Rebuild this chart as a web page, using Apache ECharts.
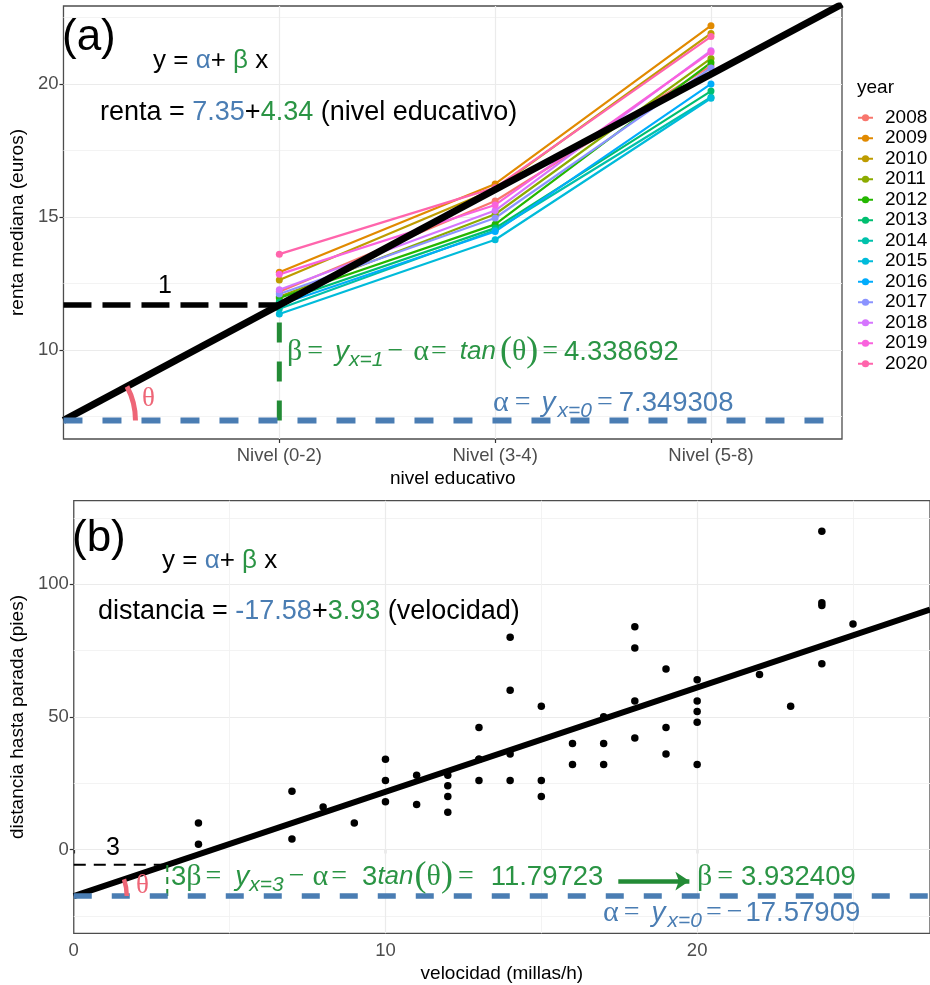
<!DOCTYPE html>
<html>
<head>
<meta charset="utf-8">
<script src="https://cdn.jsdelivr.net/npm/echarts@6/dist/echarts.min.js"></script>
<style>
html, body { margin: 0; padding: 0; background: #fff; }
#chart { width: 930px; height: 985px; }
</style>
</head>
<body>
<div id="chart"></div>
<script>
// ---- panel (a): renta mediana por nivel educativo y año ----
const years = ['2008', '2009', '2010', '2011', '2012', '2013', '2014', '2015', '2016', '2017', '2018', '2019', '2020'];
const yearColors = ['#F8766D', '#E18A00', '#BE9C00', '#8CAB00', '#24B700', '#00BE70', '#00C1AB',
                    '#00BBDA', '#00ACFC', '#8B93FF', '#D575FE', '#F962DD', '#FF65AC'];
const nivelLabels = ['Nivel (0-2)', 'Nivel (3-4)', 'Nivel (5-8)'];
const nivelPos = [1, 2, 3];
// one value per year, same order as `years`
const rentaN02 = [12.19, 12.92, 12.63, 12.00, 11.95, 11.80, 11.55, 11.35, 11.70, 12.10, 12.26, 12.84, 13.60];
const rentaN34 = [15.60, 16.24, 16.05, 15.10, 14.72, 14.58, 14.50, 14.14, 14.45, 14.96, 15.24, 15.45, 16.10];
const rentaN58 = [20.68, 22.19, 21.90, 20.96, 20.80, 19.73, 19.50, 19.46, 20.00, 20.60, 21.25, 21.20, 21.78];
const alphaA = 7.349308;
const betaA = 4.338692;

// ---- panel (b): velocidad vs distancia de frenado ----
const velocidad = [4, 4, 7, 7, 8, 9, 10, 10, 10, 11, 11, 12, 12, 12, 12, 13, 13, 13, 13, 14, 14, 14, 14,
                   15, 15, 15, 16, 16, 17, 17, 17, 18, 18, 18, 18, 19, 19, 19, 20, 20, 20, 20, 20, 22, 23,
                   24, 24, 24, 24, 25];
const distancia = [2, 10, 4, 22, 16, 10, 18, 26, 34, 17, 28, 14, 20, 24, 28, 26, 34, 34, 46, 26, 36, 60, 80,
                   20, 26, 54, 32, 40, 32, 40, 50, 42, 56, 76, 84, 36, 46, 68, 32, 48, 52, 56, 64, 66, 54,
                   70, 92, 93, 120, 85];
const alphaB = -17.57909;
const betaB = 3.932409;

// axis extents, ticks and grid lines
const xRangeA = [0, 3.607];
const yRangeA = [6.65, 22.93];
const ticksYA = [10, 15, 20];
const majorYA = [10, 15, 20];
const minorYA = [7.5, 12.5, 17.5, 22.5];
const xRangeB = [0, 27.47];
const yRangeB = [-31.6, 131.5];
const ticksXB = [0, 10, 20];
const majorXB = [10, 20];
const minorXB = [5, 15, 25];
const ticksYB = [0, 50, 100];
const majorYB = [0, 50, 100];
const minorYB = [-25, 25, 75, 125];
const arrowB = [[17.47, -11.9], [19.75, -11.9]];

const BLUE = '#4A7DB3';
const GREEN = '#238B36';
const GREEN_T = '#2A9444';
const PINK = '#EE6677';
const SANS = 'Liberation Sans';
const SERIF = 'Liberation Serif';

const chart = echarts.init(document.getElementById('chart'));

function gridLines(major, minor, dim) {
  return major.map(v => ({ [dim]: v, lineStyle: { color: '#EBEBEB', width: 1.2, type: 'solid' } }))
    .concat(minor.map(v => ({ [dim]: v, lineStyle: { color: '#F2F2F2', width: 0.9, type: 'solid' } })));
}

function segment(idx, pts, color, width, type, z) {
  return {
    type: 'line', xAxisIndex: idx, yAxisIndex: idx, data: pts,
    symbol: 'none', silent: true, z: z,
    lineStyle: { color: color, width: width, type: type, cap: 'butt' }
  };
}

const series = [];
// background grid lines
series.push({
  type: 'line', xAxisIndex: 0, yAxisIndex: 0, data: [], z: 1,
  markLine: { silent: true, symbol: 'none', animation: false, label: { show: false },
    data: gridLines(majorYA, minorYA, 'yAxis').concat(gridLines(nivelPos, [], 'xAxis')) }
});
series.push({
  type: 'line', xAxisIndex: 1, yAxisIndex: 1, data: [], z: 1,
  markLine: { silent: true, symbol: 'none', animation: false, label: { show: false },
    data: gridLines(majorYB, minorYB, 'yAxis').concat(gridLines(majorXB, minorXB, 'xAxis')) }
});

// one line per year
years.forEach((y, i) => {
  series.push({
    name: y, type: 'line', xAxisIndex: 0, yAxisIndex: 0,
    data: [[nivelPos[0], rentaN02[i]], [nivelPos[1], rentaN34[i]], [nivelPos[2], rentaN58[i]]],
    color: yearColors[i], symbol: 'circle', symbolSize: 7, z: 10,
    lineStyle: { width: 2.2 }
  });
});

// regression & annotation segments, panel (a)
series.push(segment(0, [[xRangeA[0], alphaA], [xRangeA[1], alphaA + betaA * xRangeA[1]]], '#000', 7, 'solid', 12));
series.push(segment(0, [[0, alphaA + betaA], [1, alphaA + betaA]], '#000', 5.5, [28, 11], 13));
series.push(segment(0, [[1, alphaA], [1, alphaA + betaA]], GREEN, 5, [20, 19], 13));
series.push(segment(0, [[xRangeA[0], alphaA], [xRangeA[1], alphaA]], BLUE, 6, [19, 20], 13));

// scatter, panel (b)
series.push({
  type: 'scatter', xAxisIndex: 1, yAxisIndex: 1, z: 10,
  data: velocidad.map((v, i) => [v, distancia[i]]),
  symbolSize: 7.5, itemStyle: { color: '#000', opacity: 1 }
});
series.push(segment(1, [[xRangeB[0], alphaB], [xRangeB[1], alphaB + betaB * xRangeB[1]]], '#000', 6, 'solid', 12));
series.push(segment(1, [[0, alphaB + 3 * betaB], [3, alphaB + 3 * betaB]], '#000', 2, [12, 8], 13));
series.push(segment(1, [[3, alphaB], [3, alphaB + 3 * betaB]], GREEN, 2, [7, 5], 13));
series.push(segment(1, [[xRangeB[0], alphaB], [xRangeB[1], alphaB]], BLUE, 5.5, [18, 20], 13));
series.push({
  type: 'line', xAxisIndex: 1, yAxisIndex: 1, data: [], z: 14,
  markLine: { silent: true, animation: false, symbol: ['none', 'arrow'], symbolSize: 14,
    label: { show: false }, lineStyle: { color: GREEN, width: 4.5, type: 'solid' },
    data: [[{ coord: arrowB[0] }, { coord: arrowB[1] }]] }
});

const tickLabel = { color: '#4D4D4D', fontSize: 18.5, fontFamily: SANS };
const axisTitle = { color: '#000', fontSize: 19, fontFamily: SANS };
const tick = { lineStyle: { color: '#333', width: 1.2 }, length: 4 };

const option = {
  animation: false,
  textStyle: { fontFamily: SANS },
  grid: [
    { left: 57.5, top: 6, width: 784.5, height: 433, show: true, borderColor: '#4d4d4d', borderWidth: 1.3, containLabel: false },
    { left: 67.7, top: 500.7, width: 864, height: 432.6, show: true, borderColor: '#4d4d4d', borderWidth: 1.3, containLabel: false }
  ],
  xAxis: [
    { type: 'value', gridIndex: 0, min: xRangeA[0], max: xRangeA[1],
      axisLine: { show: false }, splitLine: { show: false },
      axisTick: Object.assign({ customValues: nivelPos }, tick),
      axisLabel: Object.assign({ customValues: nivelPos, margin: 7,
        formatter: v => nivelLabels[nivelPos.indexOf(v)] }, tickLabel),
      name: 'nivel educativo', nameLocation: 'middle', nameGap: 30, nameTextStyle: axisTitle },
    { type: 'value', gridIndex: 1, min: xRangeB[0], max: xRangeB[1],
      axisLine: { show: false }, splitLine: { show: false },
      axisTick: Object.assign({ customValues: ticksXB }, tick),
      axisLabel: Object.assign({ customValues: ticksXB, margin: 8 }, tickLabel),
      name: 'velocidad (millas/h)', nameLocation: 'middle', nameGap: 31, nameTextStyle: axisTitle }
  ],
  yAxis: [
    { type: 'value', gridIndex: 0, min: yRangeA[0], max: yRangeA[1],
      axisLine: { show: false }, splitLine: { show: false },
      axisTick: Object.assign({ customValues: ticksYA }, tick),
      axisLabel: Object.assign({ customValues: ticksYA, margin: 5 }, tickLabel),
      name: 'renta mediana (euros)', nameLocation: 'middle', nameGap: 28, nameTextStyle: axisTitle },
    { type: 'value', gridIndex: 1, min: yRangeB[0], max: yRangeB[1],
      axisLine: { show: false }, splitLine: { show: false },
      axisTick: Object.assign({ customValues: ticksYB }, tick),
      axisLabel: Object.assign({ customValues: ticksYB, margin: 5 }, tickLabel),
      name: 'distancia hasta parada (pies)', nameLocation: 'middle', nameGap: 38, nameTextStyle: axisTitle }
  ],
  legend: {
    data: years, orient: 'vertical', left: 852, top: 102.5,
    itemWidth: 15, itemHeight: 9, itemGap: 0,
    textStyle: { fontSize: 19, lineHeight: 20.5, color: '#000', fontFamily: SANS, padding: [0, 0, 0, 7] }
  },
  series: series
};
chart.setOption(option);

// ---- annotations ----
const simpleRich = {
  k: { fill: '#000', fontFamily: SANS, fontSize: 27 },
  a: { fill: BLUE, fontFamily: SANS, fontSize: 27 },
  b: { fill: GREEN_T, fontFamily: SANS, fontSize: 27 }
};
function txt(x, y, text, size) {
  const rich = {};
  Object.keys(simpleRich).forEach(k => { rich[k] = Object.assign({}, simpleRich[k], { fontSize: size || 27 }); });
  return { type: 'text', x: x, y: y, z: 100, silent: true,
    style: { text: text, rich: rich, align: 'left', verticalAlign: 'middle', fill: '#000' } };
}
function plain(x, y, text, size, col, family) {
  return { type: 'text', x: x, y: y, z: 100, silent: true,
    style: { text: text, fill: col, fontSize: size, fontFamily: family || SANS, align: 'left', verticalAlign: 'middle' } };
}
// plotmath-like formula pieces: [style, text, left padding]
const BASE = {
  g: { fontFamily: SERIF, fontSize: 30 },
  e: { fontFamily: SERIF, fontSize: 28 },
  iy: { fontFamily: SANS, fontStyle: 'italic', fontSize: 28 },
  it: { fontFamily: SANS, fontStyle: 'italic', fontSize: 26 },
  sub: { fontFamily: SANS, fontStyle: 'italic', fontSize: 21, top: 16 },
  par: { fontFamily: SERIF, fontSize: 36 },
  n: { fontFamily: SANS, fontSize: 27.5 }
};
function formula(x, y, col, pieces) {
  const rich = {};
  let text = '';
  pieces.forEach((p, i) => {
    const b = BASE[p[0]];
    rich['p' + i] = { fill: col, fontFamily: b.fontFamily, fontSize: b.fontSize,
      fontStyle: b.fontStyle || 'normal', padding: [b.top || 0, 0, 0, p[2] || 0] };
    text += '{p' + i + '|' + p[1] + '}';
  });
  return { type: 'text', x: x, y: y, z: 100, silent: true,
    style: { text: text, rich: rich, align: 'left', verticalAlign: 'middle', fill: col } };
}

const cA = chart.convertToPixel({ gridIndex: 0 }, [0, alphaA]);
const pA = chart.convertToPixel({ gridIndex: 0 }, [1, alphaA + betaA]);
const angA = Math.atan2(cA[1] - pA[1], pA[0] - cA[0]);
const cB = chart.convertToPixel({ gridIndex: 1 }, [0, alphaB]);
const pB = chart.convertToPixel({ gridIndex: 1 }, [3, alphaB + 3 * betaB]);
const angB = Math.atan2(cB[1] - pB[1], pB[0] - cB[0]);

const graphic = [
  plain(62, 38, '(a)', 44, '#000'),
  txt(153, 61, '{k|y = }{a|α}{k|+}{b| β}{k| x}', 26),
  txt(100, 113, '{k|renta = }{a|7.35}{k|+}{b|4.34}{k| (nivel educativo)}'),
  plain(158, 286, '1', 25, '#000'),
  plain(142, 399, 'θ', 27, PINK, SERIF),
  formula(287, 352, GREEN_T, [['g', 'β'], ['e', '=', 5], ['iy', 'y', 12], ['sub', 'x=1'], ['e', '−', 4],
    ['g', 'α', 10], ['e', '=', 2], ['it', 'tan', 13], ['par', '(', 4], ['g', 'θ'], ['par', ')'],
    ['e', '=', 4], ['n', '4.338692', 6]]),
  formula(493, 403, BLUE, [['g', 'α'], ['e', '=', 6], ['iy', 'y', 11], ['sub', 'x=0', 2], ['e', '=', 5],
    ['n', '7.349308', 6]]),
  plain(857, 88, 'year', 19, '#000'),

  plain(72, 539, '(b)', 44, '#000'),
  txt(162, 561, '{k|y = }{a|α}{k|+}{b| β}{k| x}', 26),
  txt(98, 612, '{k|distancia = }{a|-17.58}{k|+}{b|3.93}{k| (velocidad)}'),
  plain(106, 848, '3', 25, '#000'),
  plain(136, 886, 'θ', 27, PINK, SERIF),
  formula(171, 877, GREEN_T, [['n', '3'], ['g', 'β'], ['e', '=', 4], ['iy', 'y', 14], ['sub', 'x=3'],
    ['e', '−', 5], ['g', 'α', 8], ['e', '=', 3], ['n', '3', 15], ['it', 'tan'], ['par', '(', 1], ['g', 'θ'],
    ['par', ')'], ['e', '=', 5], ['n', '11.79723', 17]]),
  formula(697, 877, GREEN_T, [['g', 'β'], ['e', '=', 5], ['n', '3.932409', 8]]),
  formula(603, 913, BLUE, [['g', 'α'], ['e', '=', 5], ['iy', 'y', 12], ['sub', 'x=0', 2], ['e', '=', 4],
    ['e', '−', 5], ['n', '17.57909', 3]]),

  { type: 'arc', z: 90, silent: true,
    shape: { cx: cA[0], cy: cA[1], r: 72, startAngle: -angA, endAngle: 0, clockwise: true },
    style: { stroke: PINK, lineWidth: 5, fill: null } },
  { type: 'arc', z: 90, silent: true,
    shape: { cx: cB[0], cy: cB[1], r: 53, startAngle: -angB, endAngle: 0, clockwise: true },
    style: { stroke: PINK, lineWidth: 4.5, fill: null } }
];
chart.setOption({ graphic: graphic });
</script>
</body>
</html>
